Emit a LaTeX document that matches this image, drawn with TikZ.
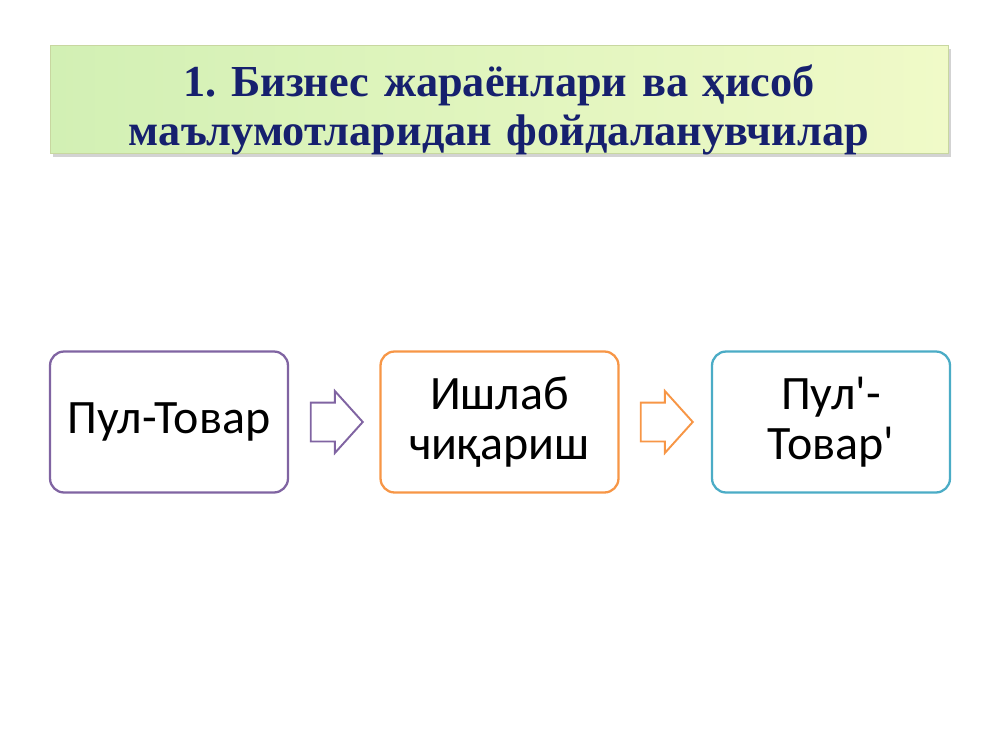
\documentclass[tikz,border=0pt]{standalone}
\usepackage{fontspec}
\setmainfont{Liberation Serif}
\newfontfamily\boxfont{Carlito}
\usetikzlibrary{shapes.arrows,shadows}
\definecolor{titleblue}{RGB}{22,32,110}
\definecolor{boxpurple}{RGB}{128,100,162}
\definecolor{boxorange}{RGB}{247,150,70}
\definecolor{boxteal}{RGB}{75,172,198}
\definecolor{titleleft}{RGB}{210,240,180}
\definecolor{titleright}{RGB}{240,250,200}
\definecolor{titleline}{RGB}{200,215,160}
\tikzset{
  stagebox/.style={draw=#1,line width=1.3pt,rounded corners=8pt,fill=white,
    minimum width=4.76cm,minimum height=2.82cm,inner sep=0.1cm,text width=4.5cm,
    align=center,font=\boxfont\fontsize{27.3}{28.6}\selectfont},
  flowarrow/.style={single arrow,draw=#1,line width=1.1pt,fill=white,
    minimum height=1.04cm,inner xsep=0pt,inner ysep=0.37cm,
    single arrow head extend=0.23cm,single arrow tip angle=96}
}
\begin{document}
\begin{tikzpicture}[x=0.02cm,y=-0.02cm]
      \useasboundingbox (0,0) rectangle (1000,750);
      \node[draw=titleline,left color=titleleft,right color=titleright,
        drop shadow={shadow xshift=0.06cm,shadow yshift=-0.08cm,opacity=0.35},
        minimum width=17.96cm,minimum height=2.16cm] (title) at (499,99) {};
      \node[text width=17.5cm,align=center,text=titleblue,
        font=\bfseries\frenchspacing\fontsize{25.2}{28}\selectfont]
        (titletext) at (499,110) {1. Бизнес жараёнлари ва ҳисоб\\маълумотларидан фойдаланувчилар};
      \node[stagebox=boxpurple] (money) at (169,422) {Пул-Товар};
      \node[stagebox=boxorange] (making) at (499.5,422) {Ишлаб\\чиқариш};
      \node[stagebox=boxteal] (moneyback) at (831,422) {Пул'-\\Товар'};
      \node[flowarrow=boxpurple] (arrowa) at (328,422) {};
      \node[flowarrow=boxorange] (arrowb) at (658,422) {};
    \end{tikzpicture}
\end{document}
